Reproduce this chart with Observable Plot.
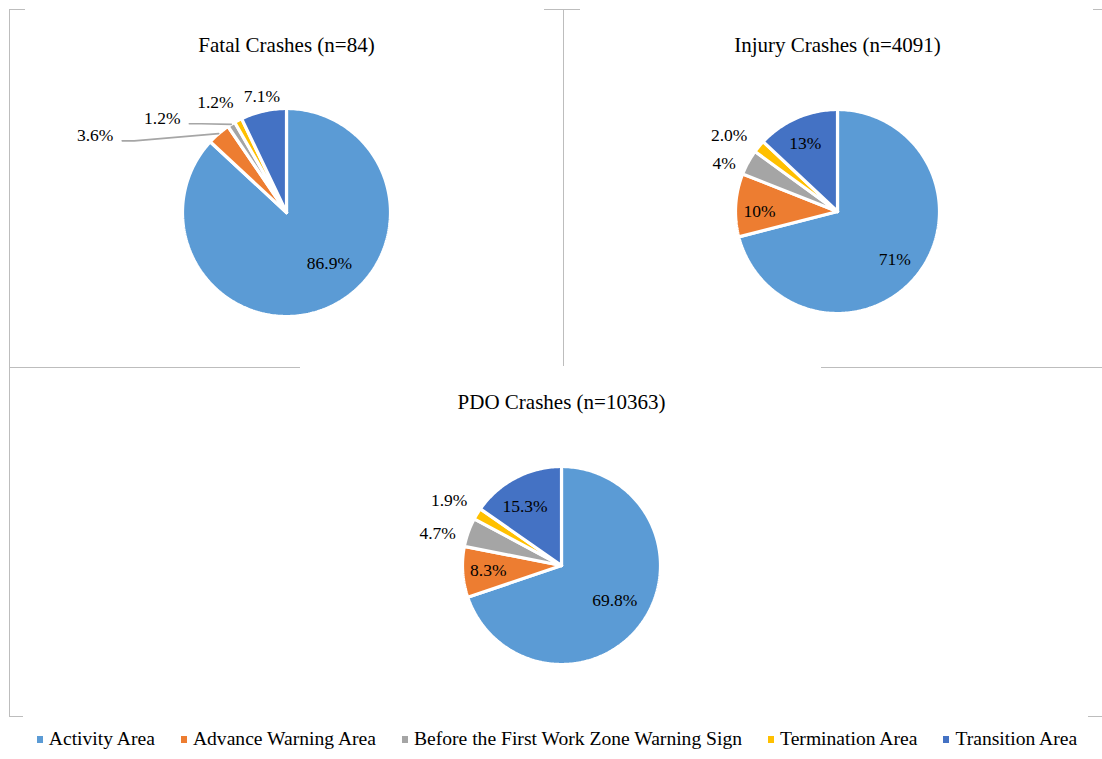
<!DOCTYPE html>
<html>
<head>
<meta charset="utf-8">
<script src="https://cdn.jsdelivr.net/npm/d3@7"></script>
<script src="https://cdn.jsdelivr.net/npm/@observablehq/plot@0.6"></script>
<style>
  body { margin: 0; background: #fff; }
  #wrap { position: relative; width: 1102px; height: 759px; overflow: hidden; font-family: "Liberation Serif", "Times New Roman", serif; }
  #chart { position: absolute; left: 0; top: 0; }
  .ln { position: absolute; background: #BDBDBD; }
  #legend { position: absolute; left: 0; top: 726px; width: 1102px; height: 26px; display: flex; justify-content: center; align-items: center; font-size: 19.6px; color: #000; padding-left: 12px; box-sizing: border-box; }
  .item { display: flex; align-items: center; margin: 0 13px; white-space: nowrap; }
  .sw { width: 6px; height: 7px; margin-right: 6px; }
</style>
</head>
<body>
<div id="wrap">
  <div id="chart"></div>
  <div id="legend"></div>
</div>
<script>
// ---- data ----
const categories = ["Activity Area", "Advance Warning Area", "Before the First Work Zone Warning Sign", "Termination Area", "Transition Area"];
const colors = ["#5B9BD5", "#ED7D31", "#A5A5A5", "#FFC000", "#4472C4"];
const chartTitles = ["Fatal Crashes (n=84)", "Injury Crashes (n=4091)", "PDO Crashes (n=10363)"];
const fatalValues = [86.9, 3.6, 1.2, 1.2, 7.1];
const injuryValues = [71, 10, 4, 2.0, 13];
const pdoValues = [69.8, 8.3, 4.7, 1.9, 15.3];
const fatalLabels = ["86.9%", "3.6%", "1.2%", "1.2%", "7.1%"];
const injuryLabels = ["71%", "10%", "4%", "2.0%", "13%"];
const pdoLabels = ["69.8%", "8.3%", "4.7%", "1.9%", "15.3%"];

// ---- layout (positions / styles only) ----
const W = 1102, H = 722;
const layouts = [
  { cx: 286, cy: 212, r: 104, tx: 286, ty: 45,
    inside: [true, false, false, false, false],
    nudge: [[18, -6], [-110, 18], [-58, 12], [-13, 0], [3, 6]],
    leader: [false, true, true, false, false] },
  { cx: 837, cy: 211, r: 102, tx: 837, ty: 45,
    inside: [true, true, false, false, true],
    nudge: [[9, 10], [-17, 4], [-6, 11], [-14, 2], [-8, -12]],
    leader: [false, false, false, false, false] },
  { cx: 561, cy: 565, r: 99, tx: 561, ty: 402,
    inside: [true, true, false, false, true],
    nudge: [[5, 0], [-14, 1], [-12, 8], [-11, -3], [-9, -6]],
    leader: [false, false, false, false, false] }
];
const seriesValues = [fatalValues, injuryValues, pdoValues];
const seriesLabels = [fatalLabels, injuryLabels, pdoLabels];

const slices = [], labels = [], leaders = [], titles = [];
seriesValues.forEach((values, ci) => {
  const L = layouts[ci];
  const total = d3.sum(values);
  let cum = 0;
  titles.push({ x: L.tx, y: L.ty, text: chartTitles[ci] });
  values.forEach((v, i) => {
    const a0 = cum / total * 2 * Math.PI;
    cum += v;
    const a1 = cum / total * 2 * Math.PI;
    const key = ci + "-" + i;
    const cat = categories[i];
    const n = Math.max(2, Math.ceil((a1 - a0) / (Math.PI / 180)));
    slices.push({ key, cat, x: L.cx, y: L.cy });
    for (let k = 0; k <= n; k++) {
      const a = a0 + (a1 - a0) * k / n;
      slices.push({ key, cat, x: L.cx + L.r * Math.sin(a), y: L.cy - L.r * Math.cos(a) });
    }
    slices.push({ key, cat, x: L.cx, y: L.cy });
    const am = (a0 + a1) / 2;
    const rho = L.inside[i] ? 0.6 * L.r : 1.2 * L.r;
    const lx = L.cx + rho * Math.sin(am) + L.nudge[i][0];
    const ly = L.cy - rho * Math.cos(am) + L.nudge[i][1];
    labels.push({ x: lx, y: ly, text: seriesLabels[ci][i] });
    if (L.leader[i]) {
      const ex = L.cx + L.r * Math.sin(am), ey = L.cy - L.r * Math.cos(am);
      leaders.push({ key, x: lx + 27, y: ly + 5 });
      leaders.push({ key, x: lx + 39, y: ly + 5 });
      leaders.push({ key, x: ex, y: ey });
    }
  });
});

const plot = Plot.plot({
  width: W, height: H, margin: 0,
  x: { domain: [0, W], range: [0, W], axis: null },
  y: { domain: [0, H], range: [0, H], axis: null },
  color: { type: "ordinal", domain: categories, range: colors },
  style: { fontFamily: "'Liberation Serif', 'Times New Roman', serif", background: "transparent", color: "#000" },
  marks: [
    Plot.line(slices, { x: "x", y: "y", z: "key", fill: "cat", stroke: "white", strokeWidth: 3.2, strokeLinejoin: "miter", curve: "linear" }),
    Plot.line(leaders, { x: "x", y: "y", z: "key", stroke: "#A6A6A6", strokeWidth: 1.6, strokeLinejoin: "round" }),
    Plot.text(labels, { x: "x", y: "y", text: "text", fontSize: 17.5, fill: "#000" }),
    Plot.text(titles, { x: "x", y: "y", text: "text", fontSize: 21, fill: "#000" })
  ]
});
document.getElementById("chart").appendChild(plot);

// frame lines (decoration)
const frame = [
  [9, 9, 16, 1], [9, 9, 1, 707], [544, 9, 36, 1], [563, 9, 1, 357], [1093, 9, 9, 1],
  [9, 367, 291, 1], [821, 367, 281, 1], [9, 716, 14, 1], [1088, 716, 14, 1]
];
const wrap = document.getElementById("wrap");
frame.forEach(([l, t, w, h]) => {
  const d = document.createElement("div");
  d.className = "ln";
  d.style.left = l + "px"; d.style.top = t + "px"; d.style.width = w + "px"; d.style.height = h + "px";
  wrap.appendChild(d);
});

// legend
const legend = document.getElementById("legend");
categories.forEach((c, i) => {
  const it = document.createElement("div");
  it.className = "item";
  const sw = document.createElement("span");
  sw.className = "sw";
  sw.style.background = colors[i];
  const tx = document.createElement("span");
  tx.textContent = c;
  it.appendChild(sw); it.appendChild(tx);
  legend.appendChild(it);
});
</script>
</body>
</html>
